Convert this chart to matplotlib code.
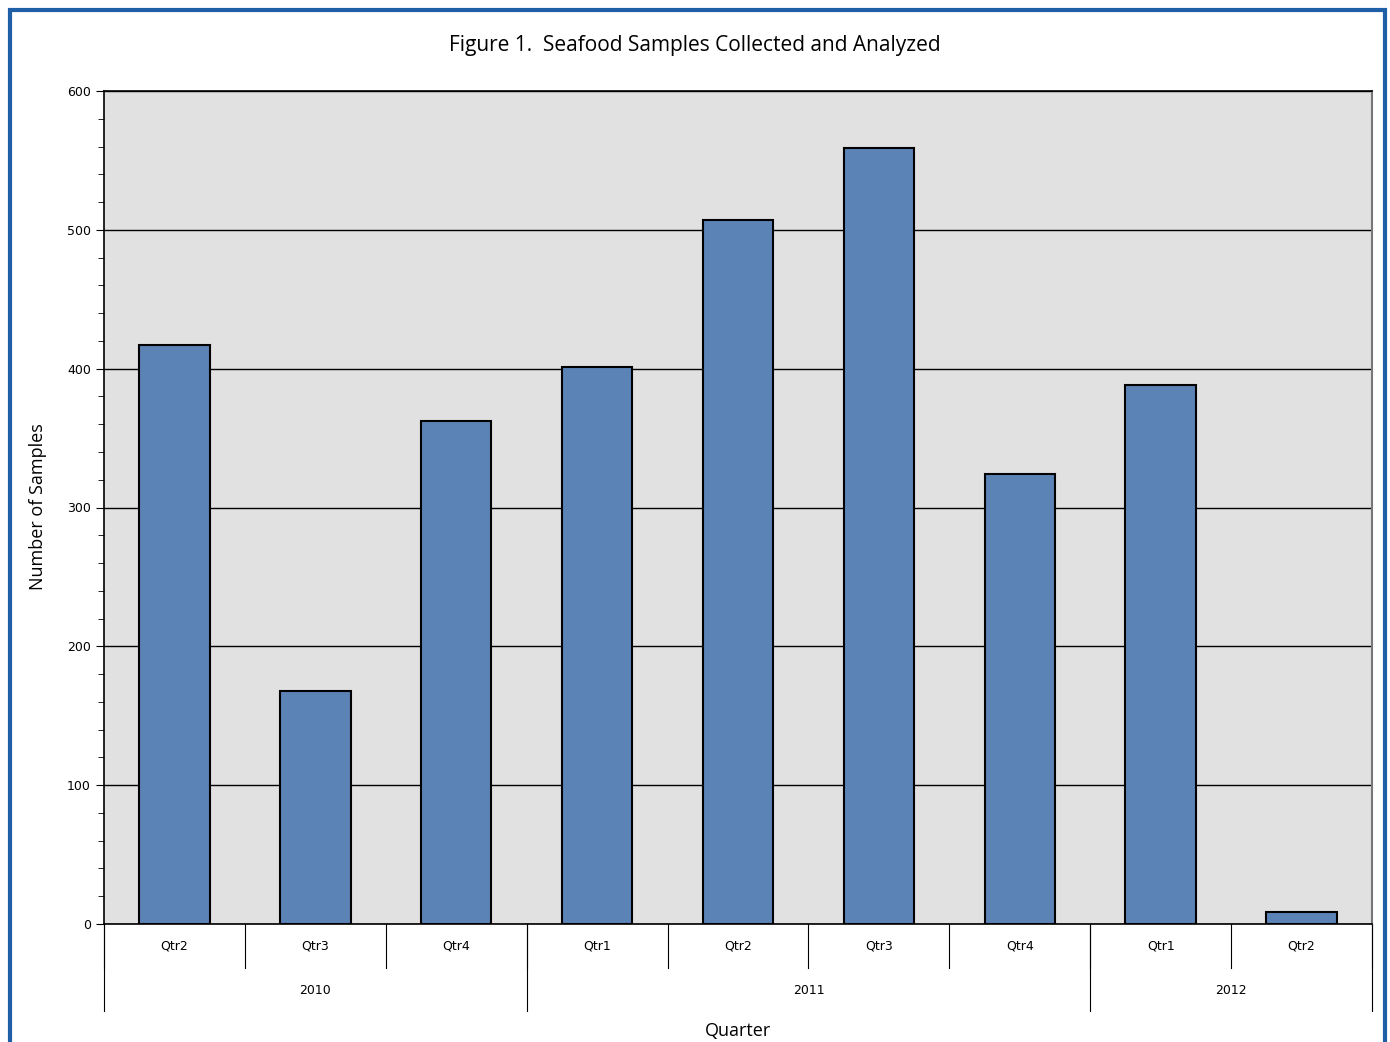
import matplotlib.pyplot as plt
from matplotlib.patches import Rectangle
from matplotlib.ticker import MultipleLocator

quarters = ["Qtr2", "Qtr3", "Qtr4", "Qtr1", "Qtr2", "Qtr3", "Qtr4", "Qtr1", "Qtr2"]
years = ["2010", "2011", "2012"]
year_counts = [3, 4, 2]
samples = [417, 168, 362, 401, 507, 559, 324, 388, 9]

fig = plt.figure(figsize=(13.9, 10.42), dpi=100)
ax = fig.add_axes([104/1390, 1 - 924/1042, (1372-104)/1390, (924-91)/1042])
ax.set_facecolor("#e1e1e1")

# blue frame around the chart (bottom runs off the image)
fig.patches.append(Rectangle((10/1390, -0.05), (1375)/1390, 1 - 10/1042 + 0.05,
                             transform=fig.transFigure, fill=False,
                             edgecolor="#1f5fa8", linewidth=3))

x = [i + 0.5 for i in range(len(samples))]
ax.bar(x, samples, width=0.5, color="#5b83b6", edgecolor="black", linewidth=1.5, zorder=3)

ax.set_xlim(0, len(samples))
ax.set_ylim(0, 600)
ax.yaxis.set_major_locator(MultipleLocator(100))
ax.yaxis.set_minor_locator(MultipleLocator(20))
ax.grid(axis="y", which="major", color="black", linewidth=1, zorder=1)
ax.tick_params(axis="y", which="major", direction="out", length=6, labelsize=9)
ax.tick_params(axis="y", which="minor", direction="out", length=4)
ax.set_xticks([])
for s in ["left", "top", "bottom"]:
    ax.spines[s].set_color("black")
    ax.spines[s].set_linewidth(1.2)
ax.spines["right"].set_color("#777777")
ax.spines["right"].set_linewidth(1.5)

# two-level category axis
tr = ax.get_xaxis_transform()
short = -44/833
long_ = -87/833
for i in range(len(samples) + 1):
    ax.plot([i, i], [0, short], transform=tr, color="black", linewidth=0.8, clip_on=False)
bounds = [0]
for c in year_counts:
    bounds.append(bounds[-1] + c)
for b in bounds:
    ax.plot([b, b], [0, long_], transform=tr, color="black", linewidth=0.8, clip_on=False)
for i, q in enumerate(quarters):
    ax.text(i + 0.5, -22/833, q, transform=tr, ha="center", va="center", fontsize=9)
for j, y in enumerate(years):
    ax.text((bounds[j] + bounds[j+1]) / 2, -66/833, y, transform=tr, ha="center", va="center", fontsize=9)

fig.text(0.5, 1 - 46/1042, "Figure 1.  Seafood Samples Collected and Analyzed",
         ha="center", va="center", fontsize=15, family="Open Sans")
fig.text(38/1390, 1 - 507/1042, "Number of Samples", rotation=90,
         ha="center", va="center", fontsize=13, family="Open Sans")
fig.text(738/1390, 1 - 1031/1042, "Quarter", ha="center", va="center",
         fontsize=13, family="Open Sans")

fig.savefig("out.png", dpi=100)
